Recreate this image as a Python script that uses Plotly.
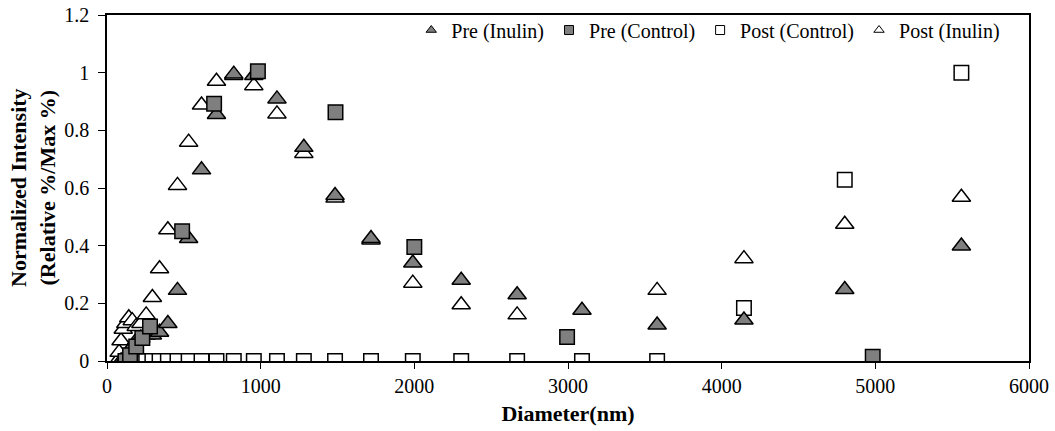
import plotly.graph_objects as go

# ---- data (diameter in nm, normalized intensity) ----
pre_inulin_d = [91.28, 105.7, 122.4, 141.8, 164.2, 190.1, 220.2, 255.0, 295.3, 342.0, 396.1,
                458.7, 531.2, 615.1, 712.4, 825.0, 955.4, 1106, 1281, 1484, 1718, 1990,
                2305, 2669, 3091, 3580, 4145, 4801, 5560]
pre_inulin_v = [0.0, 0.0, 0.01, 0.03, 0.05, 0.07, 0.08, 0.09, 0.09, 0.10, 0.13,
                0.245, 0.425, 0.663, 0.855, 0.995, 0.99, 0.909, 0.741, 0.574, 0.425, 0.34,
                0.28, 0.23, 0.176, 0.125, 0.142, 0.248, 0.399]

pre_control_d = [120, 150, 190, 230, 280, 489, 697, 982, 1487, 2000, 2994, 4983]
pre_control_v = [0.0, 0.02, 0.05, 0.08, 0.12, 0.45, 0.892, 1.005, 0.863, 0.395, 0.083, 0.015]

post_control_d = [164.2, 190.1, 220.2, 255.0, 295.3, 342.0, 396.1, 458.7, 531.2, 615.1, 712.4,
                  825.0, 955.4, 1106, 1281, 1484, 1718, 1990, 2305, 2669, 3091, 3580,
                  4145, 4801, 5560]
post_control_v = [0.0, 0.0, 0.0, 0.0, 0.0, 0.0, 0.0, 0.0, 0.0, 0.0, 0.0,
                  0.0, 0.0, 0.0, 0.0, 0.0, 0.0, 0.0, 0.0, 0.0, 0.0, 0.0,
                  0.184, 0.629, 1.0]

post_inulin_d = [68.06, 78.82, 91.28, 105.7, 122.4, 141.8, 164.2, 190.1, 220.2, 255.0, 295.3,
                 342.0, 396.1, 458.7, 531.2, 615.1, 712.4, 825.0, 955.4, 1106, 1281, 1484,
                 1718, 1990, 2305, 2669, 3580, 4145, 4801, 5560]
post_inulin_v = [0.0, 0.03, 0.07, 0.11, 0.13, 0.15, 0.14, 0.12, 0.13, 0.16, 0.22,
                 0.32, 0.455, 0.609, 0.759, 0.888, 0.97, 0.99, 0.955, 0.857, 0.72, 0.565,
                 0.42, 0.27, 0.195, 0.16, 0.245, 0.355, 0.474, 0.568]

x_ticks = [0, 1000, 2000, 3000, 4000, 5000, 6000]
y_ticks = [0, 0.2, 0.4, 0.6, 0.8, 1.0, 1.2]
y_tick_text = ["0", "0.2", "0.4", "0.6", "0.8", "1", "1.2"]

GRAY = "#7f7f7f"
FONT = "Liberation Serif"

fig = go.Figure()

# draw order (bottom -> top): Post (Inulin), Post (Control), Pre (Inulin), Pre (Control)
fig.add_trace(go.Scatter(x=post_inulin_d, y=post_inulin_v, mode="markers", showlegend=False,
                         marker=dict(symbol="triangle-up", size=16, color="white",
                                     line=dict(color="black", width=1.5))))
fig.add_trace(go.Scatter(x=post_control_d, y=post_control_v, mode="markers", showlegend=False,
                         marker=dict(symbol="square", size=14.5, color="white",
                                     line=dict(color="black", width=1.5))))
fig.add_trace(go.Scatter(x=pre_inulin_d, y=pre_inulin_v, mode="markers", showlegend=False,
                         marker=dict(symbol="triangle-up", size=16, color=GRAY,
                                     line=dict(color="black", width=1.5))))
fig.add_trace(go.Scatter(x=pre_control_d, y=pre_control_v, mode="markers", showlegend=False,
                         marker=dict(symbol="square", size=14.5, color=GRAY,
                                     line=dict(color="black", width=1.5))))

# legend entries
legend_items = [
    ("Pre (Inulin)", "triangle-up", GRAY),
    ("Pre (Control)", "square", GRAY),
    ("Post (Control)", "square", "white"),
    ("Post (Inulin)", "triangle-up", "white"),
]
for name, sym, col in legend_items:
    fig.add_trace(go.Scatter(x=[None], y=[None], mode="markers", name=name,
                             marker=dict(symbol=sym, size=9, color=col,
                                         line=dict(color="black", width=1))))

fig.update_layout(
    width=1055, height=431,
    margin=dict(l=107, r=26, t=14, b=70),
    paper_bgcolor="white", plot_bgcolor="white",
    font=dict(family=FONT, size=20, color="black"),
    legend=dict(orientation="h", x=0.33, y=1.01, xanchor="left", yanchor="top",
                font=dict(family=FONT, size=20, color="black"),
                itemwidth=30, bgcolor="rgba(0,0,0,0)", tracegroupgap=0),
    xaxis=dict(range=[0, 6000], tickvals=x_ticks, ticks="outside", ticklen=6,
               tickcolor="black", showline=True, linecolor="black", linewidth=1.5,
               mirror=True, showgrid=False, zeroline=False, automargin=False,
               tickfont=dict(family=FONT, size=20),
               title=dict(text="<b>Diameter(nm)</b>", font=dict(family=FONT, size=22),
                          standoff=10)),
    yaxis=dict(range=[0, 1.2], tickvals=y_ticks, ticktext=y_tick_text, ticks="outside",
               ticklen=7, tickcolor="black", showline=True, linecolor="black",
               linewidth=1.5, mirror=True, showgrid=False, zeroline=False, automargin=False,
               tickfont=dict(family=FONT, size=20), ticklabelstandoff=5),
    annotations=[dict(text="<b>Normalized Intensity<br>(Relative %/Max %)</b>",
                      x=0, y=0.5, xref="paper", yref="paper", xanchor="center",
                      yanchor="middle", xshift=-74, textangle=-90, showarrow=False,
                      font=dict(family=FONT, size=22, color="black"))],
)

fig.write_html("out.html")
